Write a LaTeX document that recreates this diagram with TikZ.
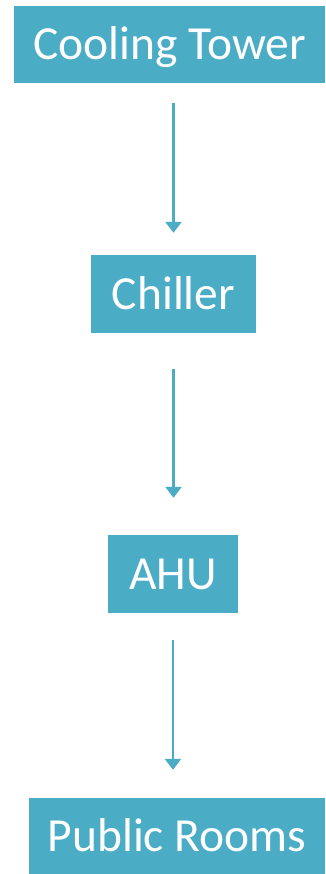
\documentclass[tikz,border=0pt]{standalone}
\usepackage{fontspec}
\setmainfont{Carlito}
\usetikzlibrary{arrows.meta}
\definecolor{aqua}{HTML}{4BACC6}
\begin{document}
\begin{tikzpicture}[x=1pt,y=-1pt,
  box/.style={fill=aqua,draw=none,inner sep=0pt,text=white,text height=31pt,text depth=0pt,font=\fontsize{47.5}{57}\selectfont},
  arr/.style={draw=aqua,line width=2.5pt,-{Triangle[width=16pt,length=11pt]}}]
\useasboundingbox (0,0) rectangle (325,874);
\node[box,minimum width=311pt,minimum height=77pt] (ct) at (169.5,44.5) {Cooling Tower};
\node[box,minimum width=165pt,minimum height=78pt] (ch) at (173.5,294) {Chiller};
\node[box,minimum width=130pt,minimum height=78pt] (ahu) at (173,574) {AHU};
\node[box,minimum width=296pt,minimum height=76pt] (pr) at (177,836) {Public Rooms};
\draw[arr,shorten <=20pt,shorten >=22pt] (ch.north |- ct.south) -- (ch.north);
\draw[arr,shorten <=36pt,shorten >=37pt] (ch.south) -- (ch.south |- ahu.north);
\draw[arr,shorten <=27pt,shorten >=28pt] (ahu.south) -- (ahu.south |- pr.north);
\end{tikzpicture}
\end{document}
